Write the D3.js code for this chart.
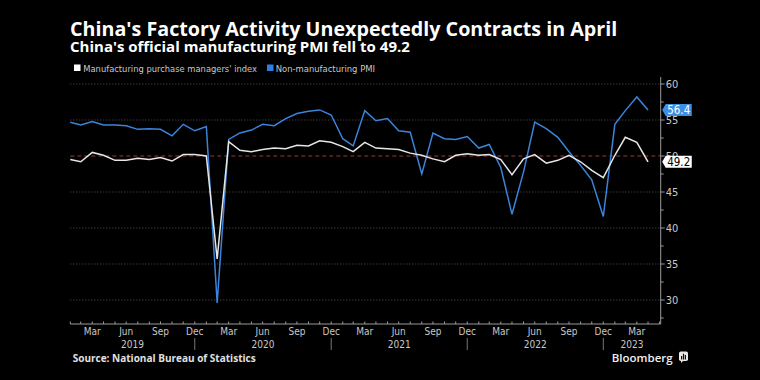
<!DOCTYPE html>
<html><head><meta charset="utf-8">
<script src="https://cdn.jsdelivr.net/npm/d3@7"></script>
<style>
html,body{margin:0;padding:0;background:#000;}
svg{display:block;}
</style></head>
<body>
<svg id="chart" width="760" height="380"></svg>
<script>
// ---- data ----
const startMonth = "2019-01";
const manufacturing = [
  49.5,49.2,50.5,50.1,49.4,49.4,49.7,49.5,49.8,49.3,50.2,50.2,
  50.0,35.7,52.0,50.8,50.6,50.9,51.1,51.0,51.5,51.4,52.1,51.9,
  51.3,50.6,51.9,51.1,51.0,50.9,50.4,50.1,49.6,49.2,50.1,50.3,
  50.1,50.2,49.5,47.4,49.6,50.2,49.0,49.4,50.1,49.2,48.0,47.0,
  50.1,52.6,51.9,49.2
];
const nonManufacturing = [
  54.7,54.3,54.8,54.3,54.3,54.2,53.7,53.8,53.7,52.8,54.4,53.5,
  54.1,29.6,52.3,53.2,53.6,54.4,54.2,55.2,55.9,56.2,56.4,55.7,
  52.4,51.4,56.3,54.9,55.2,53.5,53.3,47.5,53.2,52.4,52.3,52.7,
  51.1,51.6,48.4,41.9,47.8,54.7,53.8,52.6,50.6,48.7,46.7,41.6,
  54.4,56.3,58.2,56.4
];
const yTicks = [30,35,40,45,50,55,60];
const monthLabels = ["Mar","Jun","Sep","Dec"];
const years = [2019,2020,2021,2022,2023];
const seriesNames = ["Manufacturing purchase managers' index","Non-manufacturing PMI"];
const titleText = "China's Factory Activity Unexpectedly Contracts in April";
const subtitleText = "China's official manufacturing PMI fell to 49.2";
const sourceText = "Source: National Bureau of Statistics";
const refValue = 50;

// ---- layout ----
const W = 760, H = 380;
const pLeft = 70.3, pRight = 660.7, pTop = 77, pBottom = 324;
const colWhite = "#e6e6e6", colBlue = "#3a84dc";

const svg = d3.select("#chart");
svg.append("rect").attr("width",W).attr("height",H).attr("fill","#000");

const [sy, sm] = startMonth.split("-").map(Number);
const monthEnd = i => new Date(sy, sm - 1 + i + 1, 0);
const dates = manufacturing.map((_, i) => monthEnd(i));

const x = d3.scaleTime()
  .domain([monthEnd(0), new Date(2023, 5, 3)])
  .range([pLeft, pRight]);
const y = d3.scaleLinear().domain([30, 60]).range([300, 84]);

function fitWidth(sel, target) {
  const n = sel.node();
  const fs = parseFloat(sel.attr("font-size"));
  const w = n.getComputedTextLength();
  if (w > 0) sel.attr("font-size", (fs * target / w).toFixed(2));
}

// ---- titles ----
const title = svg.append("text").attr("x", 70).attr("y", 35.5)
  .attr("font-family", "Open Sans, Liberation Sans, sans-serif").attr("font-weight", 700)
  .attr("font-size", 19).attr("fill", "#fff").text(titleText);
fitWidth(title, 548);
const sub = svg.append("text").attr("x", 70).attr("y", 51.5)
  .attr("font-family", "Open Sans, Liberation Sans, sans-serif").attr("font-weight", 700)
  .attr("font-size", 14).attr("fill", "#fff").text(subtitleText);
fitWidth(sub, 340);

// ---- legend ----
const legend = [
  {name: seriesNames[0], color: "#ffffff", sx: 74, tx: 83.3, tw: 173.7},
  {name: seriesNames[1], color: "#2f7fe2", sx: 267, tx: 275.7, tw: 99.3}
];
legend.forEach(l => {
  svg.append("rect").attr("x", l.sx).attr("y", 64.5).attr("width", 6.5).attr("height", 6.5).attr("fill", l.color);
  svg.append("text").attr("x", l.tx).attr("y", 71.5)
    .attr("font-family", "DejaVu Sans Condensed, Liberation Sans, sans-serif")
    .attr("font-size", 9.5).attr("fill", "#c8c8c8")
    .attr("textLength", l.tw).attr("lengthAdjust", "spacingAndGlyphs")
    .text(l.name);
});

// ---- grid ----
svg.append("g").selectAll("line").data(yTicks.filter(v => v !== refValue)).join("line")
  .attr("x1", pLeft).attr("x2", pRight)
  .attr("y1", d => y(d)).attr("y2", d => y(d))
  .attr("stroke", "#6a6a6a").attr("stroke-width", 0.8).attr("stroke-dasharray", "1,2");
svg.append("line").attr("x1", pLeft).attr("x2", pRight)
  .attr("y1", y(refValue)).attr("y2", y(refValue))
  .attr("stroke", "#9a3a36").attr("stroke-width", 1).attr("stroke-dasharray", "4,3");

// ---- right axis ----
const axisCol = "#9a9a9a";
svg.append("line").attr("x1", pRight).attr("x2", pRight).attr("y1", pTop).attr("y2", pBottom)
  .attr("stroke", axisCol).attr("stroke-width", 1);
const minor = d3.range(27.5, 61, 2.5).filter(v => !yTicks.includes(v));
svg.append("g").selectAll("line").data(minor).join("line")
  .attr("x1", pRight).attr("x2", pRight + 3).attr("y1", d => y(d)).attr("y2", d => y(d))
  .attr("stroke", axisCol).attr("stroke-width", 1);
svg.append("g").selectAll("line").data(yTicks).join("line")
  .attr("x1", pRight).attr("x2", pRight + 4).attr("y1", d => y(d)).attr("y2", d => y(d))
  .attr("stroke", axisCol).attr("stroke-width", 1);
svg.append("g").selectAll("text").data(yTicks).join("text")
  .attr("x", pRight + 5).attr("y", d => y(d)).attr("dy", "0.35em")
  .attr("font-family", "DejaVu Sans Condensed, Liberation Sans, sans-serif")
  .attr("font-size", 11).attr("fill", "#c8c8c8").text(d => d);

// ---- bottom axis ----
svg.append("line").attr("x1", pLeft).attr("x2", pRight).attr("y1", pBottom).attr("y2", pBottom)
  .attr("stroke", axisCol).attr("stroke-width", 1);
const tickDates = d3.range(0, 53).map(monthEnd).filter(d => x(d) <= pRight);
svg.append("g").selectAll("line").data(tickDates).join("line")
  .attr("x1", d => x(d)).attr("x2", d => x(d)).attr("y1", pBottom).attr("y2", pBottom - 2.5)
  .attr("stroke", axisCol).attr("stroke-width", 1);
const labMonths = [2,5,8,11];
const labDates = tickDates.filter(d => labMonths.includes(d.getMonth()));
svg.append("g").selectAll("text").data(labDates).join("text")
  .attr("x", d => x(d)).attr("y", 335)
  .attr("text-anchor", "middle")
  .attr("font-family", "DejaVu Sans Condensed, Liberation Sans, sans-serif")
  .attr("font-size", 10).attr("fill", "#c8c8c8")
  .text(d => monthLabels[labMonths.indexOf(d.getMonth())]);
years.forEach(yr => {
  const s = Math.max(pLeft, x(new Date(yr - 1, 11, 31)));
  const e = Math.min(pRight, x(new Date(yr, 11, 31)));
  if (yr > years[0]) {
    svg.append("line").attr("x1", s).attr("x2", s).attr("y1", 338).attr("y2", 350)
      .attr("stroke", "#777").attr("stroke-width", 1);
  }
  svg.append("text").attr("x", (s + e) / 2).attr("y", 347.5).attr("text-anchor", "middle")
    .attr("font-family", "DejaVu Sans Condensed, Liberation Sans, sans-serif")
    .attr("font-size", 10).attr("fill", "#c8c8c8").text(yr);
});

// ---- lines ----
const line = d3.line().x((d, i) => x(dates[i])).y(d => y(d));
svg.append("path").datum(nonManufacturing).attr("d", line)
  .attr("fill", "none").attr("stroke", colBlue).attr("stroke-width", 1.5);
svg.append("path").datum(manufacturing).attr("d", line)
  .attr("fill", "none").attr("stroke", colWhite).attr("stroke-width", 1.5);

// ---- end labels ----
function endLabel(val, bg, fg) {
  const cy = y(val);
  const g = svg.append("g");
  const t = g.append("text").attr("x", pRight + 6.5).attr("y", cy).attr("dy", "0.36em")
    .attr("font-family", "DejaVu Sans Condensed, Liberation Sans, sans-serif")
    .attr("font-size", 11.5).attr("fill", fg).text(val.toFixed(1));
  const w = t.node().getComputedTextLength();
  const h = 12, x0 = pRight + 5, x1 = x0 + w + 3;
  g.insert("path", "text").attr("d",
    `M${pRight + 1.5},${cy} L${x0},${cy - h/2} L${x1},${cy - h/2} L${x1},${cy + h/2} L${x0},${cy + h/2} Z`)
    .attr("fill", bg);
}
endLabel(nonManufacturing[nonManufacturing.length - 1], "#3d8fe6", "#ffffff");
endLabel(manufacturing[manufacturing.length - 1], "#ffffff", "#000000");

// ---- footer ----
const src = svg.append("text").attr("x", 72.7).attr("y", 361.5)
  .attr("font-family", "Open Sans, Liberation Sans, sans-serif").attr("font-weight", 700)
  .attr("font-size", 9.5).attr("fill", "#e0e0e0").text(sourceText);
fitWidth(src, 183);
const bb = svg.append("text").attr("x", 611.7).attr("y", 361.5)
  .attr("font-family", "Open Sans, Liberation Sans, sans-serif").attr("font-weight", 600)
  .attr("font-size", 12).attr("fill", "#f0f0f0").text("Bloomberg");
fitWidth(bb, 61);
const ic = svg.append("g").attr("transform", "translate(679,351.5)");
ic.append("rect").attr("width", 9).attr("height", 9.5).attr("rx", 1.8).attr("fill", "#e8e8e8");
ic.append("path").attr("d", "M2,9 L2,11.5 L4.5,9 Z").attr("fill", "#e8e8e8");
[[2,4.5,1.2,3.5],[3.9,2.2,1.2,5.8],[5.8,3.5,1.2,4.5]].forEach(b =>
  ic.append("rect").attr("x", b[0]).attr("y", b[1]).attr("width", b[2]).attr("height", b[3]).attr("fill", "#111"));
</script>
</body></html>
